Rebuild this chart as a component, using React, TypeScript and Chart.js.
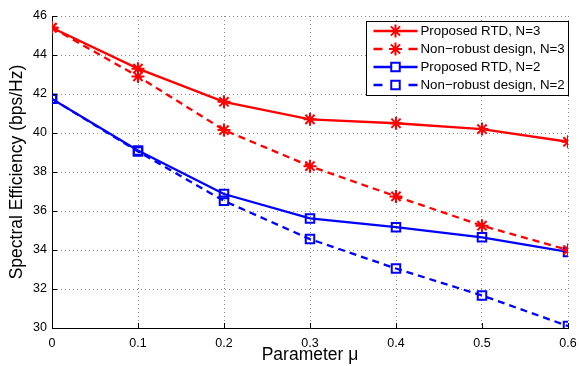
import React, { useEffect, useRef } from "react";
import { Chart, registerables } from "chart.js";

Chart.register(...registerables);

const muValues = [0, 0.1, 0.2, 0.3, 0.4, 0.5, 0.6];
const rtdN3 = [45.4, 43.3, 41.6, 40.7, 40.5, 40.2, 39.55];
const nonRobustN3 = [45.4, 42.9, 40.15, 38.3, 36.75, 35.25, 34.0];
const rtdN2 = [41.75, 39.1, 36.87, 35.62, 35.17, 34.65, 33.9];
const nonRobustN2 = [41.75, 39.05, 36.52, 34.56, 33.05, 31.67, 30.1];
const seriesLabels = [
  "Proposed RTD, N=3",
  "Non\u2212robust design, N=3",
  "Proposed RTD, N=2",
  "Non\u2212robust design, N=2",
];
const xTitle = "Parameter \u03bc";
const yTitle = "Spectral Efficiency (bps/Hz)";

const FONT = "'Liberation Sans', Arial, Helvetica, sans-serif";
const DASH = [7, 5];

const toPoints = (ys: number[]) => muValues.map((x, i) => ({ x, y: ys[i] }));

function drawMarker(ctx: CanvasRenderingContext2D, style: string, r: number, x: number, y: number) {
  ctx.beginPath();
  if (style === "star") {
    ctx.moveTo(x - r, y);
    ctx.lineTo(x + r, y);
    ctx.moveTo(x, y - r);
    ctx.lineTo(x, y + r);
    const d = r * Math.SQRT1_2;
    ctx.moveTo(x - d, y - d);
    ctx.lineTo(x + d, y + d);
    ctx.moveTo(x - d, y + d);
    ctx.lineTo(x + d, y - d);
  } else {
    const s = r * Math.SQRT1_2;
    ctx.rect(x - s, y - s, 2 * s, 2 * s);
  }
  ctx.stroke();
}

const innerTicks = {
  id: "innerTicks",
  afterDatasetsDraw(chart: any) {
    const { ctx, chartArea, scales } = chart;
    ctx.save();
    ctx.strokeStyle = "#000";
    ctx.lineWidth = 1;
    ctx.beginPath();
    scales.x.ticks.forEach((t: any) => {
      const px = Math.round(scales.x.getPixelForValue(t.value)) + 0.5;
      ctx.moveTo(px, chartArea.bottom);
      ctx.lineTo(px, chartArea.bottom - 5);
    });
    scales.y.ticks.forEach((t: any) => {
      const py = Math.round(scales.y.getPixelForValue(t.value)) + 0.5;
      ctx.moveTo(chartArea.left, py);
      ctx.lineTo(chartArea.left + 5, py);
    });
    ctx.stroke();
    ctx.restore();
  },
};

const boxLegend = {
  id: "boxLegend",
  afterDraw(chart: any) {
    const { ctx, chartArea } = chart;
    const boxW = 202;
    const boxH = 74;
    const x0 = chartArea.right - boxW + 0.5;
    const y0 = chartArea.top + 5.5;
    ctx.save();
    ctx.fillStyle = "#fff";
    ctx.fillRect(x0, y0, boxW, boxH);
    ctx.strokeStyle = "#000";
    ctx.lineWidth = 1;
    ctx.strokeRect(x0, y0, boxW, boxH);
    ctx.font = `13.3px ${FONT}`;
    ctx.textBaseline = "middle";
    chart.data.datasets.forEach((ds: any, i: number) => {
      const cy = y0 + 9.5 + i * 18;
      const lx1 = x0 + 7;
      const lx2 = x0 + 51;
      const cx = (lx1 + lx2) / 2;
      ctx.strokeStyle = ds.borderColor;
      ctx.lineWidth = 2.3;
      ctx.setLineDash([]);
      ctx.beginPath();
      if (ds.borderDash && ds.borderDash.length) {
        ctx.moveTo(lx1, cy);
        ctx.lineTo(lx1 + 9, cy);
        ctx.moveTo(lx2 - 9, cy);
        ctx.lineTo(lx2, cy);
      } else {
        ctx.moveTo(lx1, cy);
        ctx.lineTo(lx2, cy);
      }
      ctx.stroke();
      if (ds.pointStyle === "rect") {
        const s = ds.pointRadius * Math.SQRT1_2;
        ctx.fillStyle = "#fff";
        ctx.fillRect(cx - s, cy - s, 2 * s, 2 * s);
      }
      ctx.lineWidth = ds.pointBorderWidth;
      drawMarker(ctx, ds.pointStyle, ds.pointRadius, cx, cy);
      ctx.fillStyle = "#000";
      ctx.fillText(ds.label, lx2 + 3, cy + 0.5);
    });
    ctx.restore();
  },
};

export default function App() {
  const canvasRef = useRef<HTMLCanvasElement | null>(null);

  useEffect(() => {
    if (!canvasRef.current) return;
    const mk = (label: string, ys: number[], color: string, dashed: boolean, star: boolean) => ({
      label,
      data: toPoints(ys),
      borderColor: color,
      backgroundColor: "transparent",
      borderWidth: 2.3,
      borderDash: dashed ? DASH : [],
      pointStyle: star ? "star" : "rect",
      pointRadius: star ? 6.5 : 6,
      pointBorderWidth: 2,
      pointBorderColor: color,
      pointBackgroundColor: "transparent",
      tension: 0,
    });
    const chart = new Chart(canvasRef.current, {
      type: "line",
      data: {
        datasets: [
          mk(seriesLabels[0], rtdN3, "#ff0000", false, true),
          mk(seriesLabels[1], nonRobustN3, "#ff0000", true, true),
          mk(seriesLabels[2], rtdN2, "#0000ff", false, false),
          mk(seriesLabels[3], nonRobustN2, "#0000ff", true, false),
        ] as any,
      },
      options: {
        animation: false,
        responsive: false,
        devicePixelRatio: 1,
        layout: { padding: { top: 16, right: 11, left: 0, bottom: 0 } },
        plugins: {
          legend: { display: false },
          tooltip: { enabled: false },
        },
        scales: {
          x: {
            type: "linear",
            min: 0,
            max: 0.6,
            ticks: {
              stepSize: 0.1,
              color: "#000",
              font: { family: FONT, size: 12.5 },
              padding: 8,
              maxRotation: 0,
            },
            grid: { color: "rgba(0,0,0,0.45)", drawTicks: false, lineWidth: 1 },
            border: { display: true, color: "#000", width: 1, dash: [1, 3] },
            title: {
              display: true,
              text: xTitle,
              color: "#000",
              font: { family: FONT, size: 17.5 },
              padding: { top: 0, bottom: 0 },
            },
            afterFit: (s: any) => {
              s.height = 38;
              s.paddingLeft = 0;
              s.paddingRight = 0;
            },
          },
          y: {
            type: "linear",
            min: 30,
            max: 46,
            ticks: {
              stepSize: 2,
              color: "#000",
              font: { family: FONT, size: 12.5 },
              padding: 5,
            },
            grid: { color: "rgba(0,0,0,0.45)", drawTicks: false, lineWidth: 1 },
            border: { display: true, color: "#000", width: 1, dash: [1, 3] },
            title: {
              display: true,
              text: yTitle,
              color: "#000",
              font: { family: FONT, size: 17.5 },
              padding: { top: 7, bottom: 0 },
            },
            afterFit: (s: any) => {
              s.width = 52;
              s.paddingTop = 0;
              s.paddingBottom = 0;
            },
          },
        },
      },
      plugins: [innerTicks, boxLegend],
    } as any);
    return () => chart.destroy();
  }, []);

  return (
    <div style={{ position: "fixed", left: 0, top: 0, width: 579, height: 366, background: "#fff" }}>
      <canvas ref={canvasRef} width={579} height={366} style={{ display: "block" }} />
    </div>
  );
}
